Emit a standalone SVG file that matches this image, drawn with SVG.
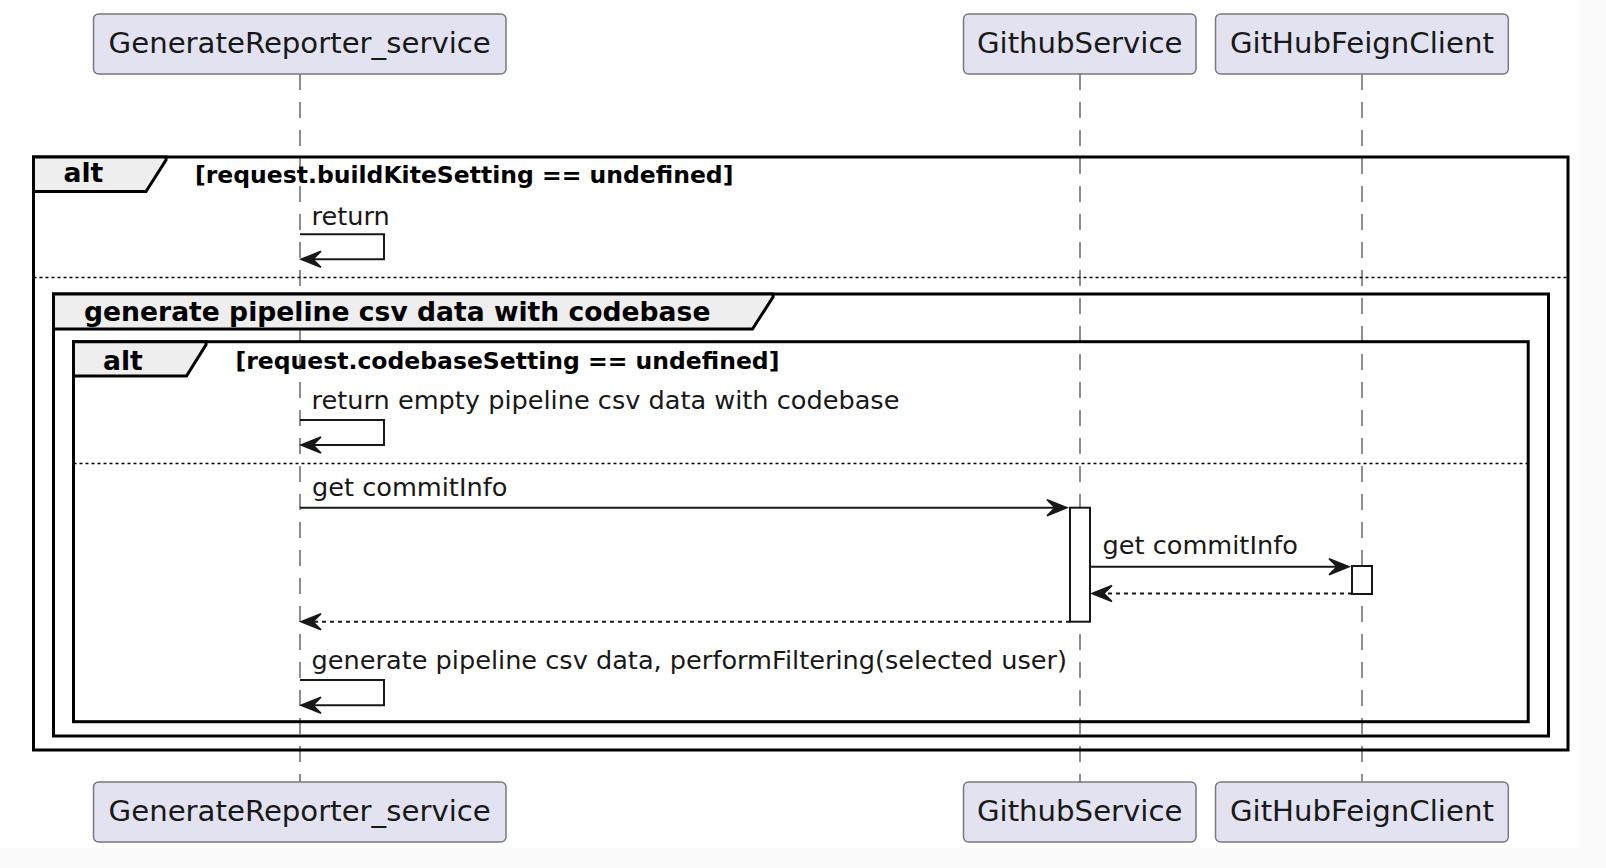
<svg xmlns="http://www.w3.org/2000/svg" width="1606" height="868" viewBox="0 0 1606 868">
<style>
.pbox{fill:#E2E2F0;stroke:#7a7a7a;stroke-width:1.5}
.ptxt{font-family:"DejaVu Sans",sans-serif;font-size:29.2px;fill:#181818;text-anchor:middle}
.life{stroke:#6a6a6a;stroke-width:1.5;stroke-dasharray:16,12;fill:none}
.frame{fill:none;stroke:#000;stroke-width:3}
.tab{fill:#EEEEEE;stroke:#000;stroke-width:3;stroke-linejoin:miter}
.sep{stroke:#000;stroke-width:1.5;stroke-dasharray:3,3;fill:none}
.kw{font-family:"DejaVu Sans",sans-serif;font-weight:bold;font-size:26.6px;fill:#000}
.guard{font-family:"DejaVu Sans",sans-serif;font-weight:bold;font-size:23.5px;fill:#000}
.msg{font-family:"DejaVu Sans",sans-serif;font-size:25.6px;fill:#181818}
.line{stroke:#181818;stroke-width:2;fill:none}
.dash{stroke:#181818;stroke-width:2;fill:none;stroke-dasharray:4,4}
.act{fill:#fff;stroke:#181818;stroke-width:2}
.head{fill:#181818;stroke:#181818;stroke-width:1.5;stroke-linejoin:miter}
</style>
<rect x="0" y="0" width="1606" height="868" fill="#fbfbfb"/>
<rect x="0" y="0" width="1579" height="848" fill="#ffffff"/>

<g id="lifelines">
<line class="life" x1="300" y1="74" x2="300" y2="782"/>
<line class="life" x1="1080" y1="74" x2="1080" y2="782"/>
<line class="life" x1="1362" y1="74" x2="1362" y2="782"/>
</g>

<g id="participant-GenerateReporter_service-top">
<rect class="pbox" x="93.5" y="14" width="412.5" height="60" rx="5"/>
<text class="ptxt" x="299.7" y="53">GenerateReporter_service</text>
</g>
<g id="participant-GithubService-top">
<rect class="pbox" x="963.5" y="14" width="232.5" height="60" rx="5"/>
<text class="ptxt" x="1079.7" y="53">GithubService</text>
</g>
<g id="participant-GitHubFeignClient-top">
<rect class="pbox" x="1215.5" y="14" width="292.8" height="60" rx="5"/>
<text class="ptxt" x="1361.9" y="53">GitHubFeignClient</text>
</g>

<g id="frame-alt-outer">
<rect class="frame" x="33.5" y="157" width="1534.5" height="593"/>
<path class="tab" d="M33.5,157 L166,157 L166,160 L146,191.5 L33.5,191.5 Z"/>
<text class="kw" x="63.5" y="182">alt</text>
<text class="guard" x="195" y="183">[request.buildKiteSetting == undefined]</text>
<line class="sep" x1="33.5" y1="277.5" x2="1568" y2="277.5"/>
</g>

<g id="frame-group">
<rect class="frame" x="53.5" y="294" width="1495" height="442"/>
<path class="tab" d="M53.5,294 L773,294 L773,297 L752.5,329 L53.5,329 Z"/>
<text class="kw" x="84" y="321">generate pipeline csv data with codebase</text>
</g>

<g id="frame-alt-inner">
<rect class="frame" x="73.5" y="341.7" width="1454.7" height="380"/>
<path class="tab" d="M73.5,341.7 L206,341.7 L206,344.7 L186.5,376 L73.5,376 Z"/>
<text class="kw" x="103" y="369.5">alt</text>
<text class="guard" x="235.5" y="368.5">[request.codebaseSetting == undefined]</text>
<line class="sep" x1="73.5" y1="463.5" x2="1528" y2="463.5"/>
</g>

<g id="activations">
<rect class="act" x="1070" y="507.7" width="20" height="114"/>
<rect class="act" x="1352" y="566" width="20" height="28"/>
</g>

<g id="connectors">
<polyline class="line" points="300,234.3 384,234.3 384,259.3 302,259.3"/>
<polygon class="head" points="301,259.3 321,251.3 313,259.3 321,267.3"/>
<text class="msg" x="311.5" y="225">return</text>

<polyline class="line" points="300,420 384,420 384,445 302,445"/>
<polygon class="head" points="301,445 321,437 313,445 321,453"/>
<text class="msg" x="311.5" y="408.5">return empty pipeline csv data with codebase</text>

<line class="line" x1="300" y1="507.7" x2="1066" y2="507.7"/>
<polygon class="head" points="1067,507.7 1047,499.7 1055,507.7 1047,515.7"/>
<text class="msg" x="312" y="496">get commitInfo</text>

<line class="line" x1="1090" y1="566.7" x2="1348" y2="566.7"/>
<polygon class="head" points="1349,566.7 1329,558.7 1337,566.7 1329,574.7"/>
<text class="msg" x="1102.5" y="553.5">get commitInfo</text>

<line class="dash" x1="1352" y1="593.5" x2="1094" y2="593.5"/>
<polygon class="head" points="1092,593.5 1112,585.5 1104,593.5 1112,601.5"/>

<line class="dash" x1="1070" y1="621.7" x2="302" y2="621.7"/>
<polygon class="head" points="301,621.7 321,613.7 313,621.7 321,629.7"/>

<polyline class="line" points="300,680 384,680 384,705.3 302,705.3"/>
<polygon class="head" points="301,705.3 321,697.3 313,705.3 321,713.3"/>
<text class="msg" x="311.5" y="668.5">generate pipeline csv data, performFiltering(selected user)</text>
</g>

<g id="participant-GenerateReporter_service-bottom">
<rect class="pbox" x="93.5" y="782" width="412.5" height="60" rx="5"/>
<text class="ptxt" x="299.7" y="821">GenerateReporter_service</text>
</g>
<g id="participant-GithubService-bottom">
<rect class="pbox" x="963.5" y="782" width="232.5" height="60" rx="5"/>
<text class="ptxt" x="1079.7" y="821">GithubService</text>
</g>
<g id="participant-GitHubFeignClient-bottom">
<rect class="pbox" x="1215.5" y="782" width="292.8" height="60" rx="5"/>
<text class="ptxt" x="1361.9" y="821">GitHubFeignClient</text>
</g>
</svg>
